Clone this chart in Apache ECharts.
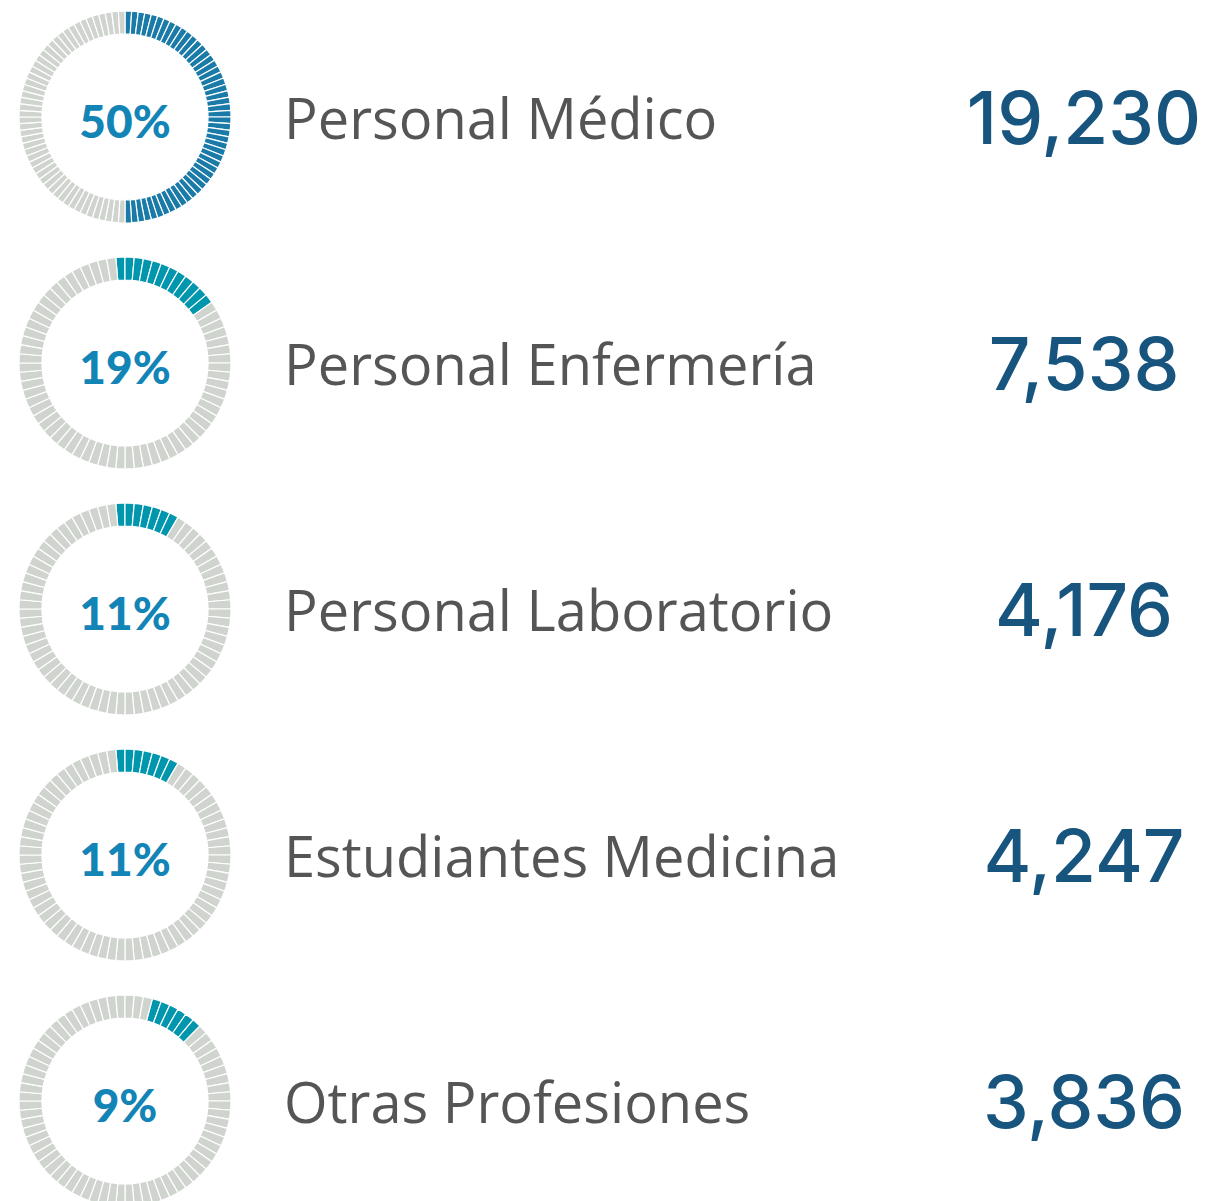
<!DOCTYPE html>
<html>
<head>
<meta charset="utf-8">
<script src="https://cdn.jsdelivr.net/npm/echarts@6/dist/echarts.min.js"></script>
<style>
  html, body { margin: 0; padding: 0; background: #fff; }
  #chart { width: 1209px; height: 1201px; }
</style>
</head>
<body>
<div id="chart"></div>
<script>
// datos
var categorias = ["Personal Médico", "Personal Enfermería", "Personal Laboratorio", "Estudiantes Medicina", "Otras Profesiones"];
var totales = [19230, 7538, 4176, 4247, 3836];
var porcentajes = [50, 19, 11, 11, 9];
// segmentos pintados / segmentos del anillo
var segPintados = [50, 12, 7, 7, 6];
var segTotales = [100, 72, 72, 72, 72];

var chart = echarts.init(document.getElementById("chart"), null, { renderer: "svg" });

var filaY = [117, 363, 609, 855, 1101];
var inicio = [90, 95, 95, 95, 75]; // angulo inicial de cada anillo
var colorAnillo = ["#1a7aa8", "#0096ad", "#0096ad", "#0096ad", "#0096ad"];

var series = [];
var graficos = [];

categorias.forEach(function (cat, i) {
  var datos = [];
  for (var k = 0; k < segTotales[i]; k++) {
    datos.push({
      value: 1,
      itemStyle: { color: k < segPintados[i] ? colorAnillo[i] : "#d0d4cf" }
    });
  }
  series.push({
    type: "pie",
    silent: true,
    center: [125, filaY[i]],
    radius: [83, 106],
    startAngle: inicio[i],
    clockwise: true,
    animation: false,
    label: { show: false },
    labelLine: { show: false },
    itemStyle: { borderColor: "#fff", borderWidth: 1.2 },
    data: datos
  });

  // porcentaje en el centro
  graficos.push({
    type: "text",
    x: 125,
    y: filaY[i] + 3,
    style: {
      text: porcentajes[i] + "%",
      font: "900 46px Lato",
      fill: "#1284b6",
      textAlign: "center",
      textVerticalAlign: "middle"
    }
  });
  graficos.push({
    type: "text",
    x: 284,
    y: filaY[i],
    style: {
      text: cat,
      font: "56px 'Open Sans'",
      fill: "#555555",
      textAlign: "left",
      textVerticalAlign: "middle"
    }
  });
  graficos.push({
    type: "text",
    x: 1084,
    y: filaY[i],
    style: {
      text: totales[i].toLocaleString("en-US"),
      font: "500 73px Inter",
      fill: "#17557f",
      textAlign: "center",
      textVerticalAlign: "middle"
    }
  });
});

chart.setOption({
  animation: false,
  series: series,
  graphic: graficos
});
</script>
</body>
</html>
